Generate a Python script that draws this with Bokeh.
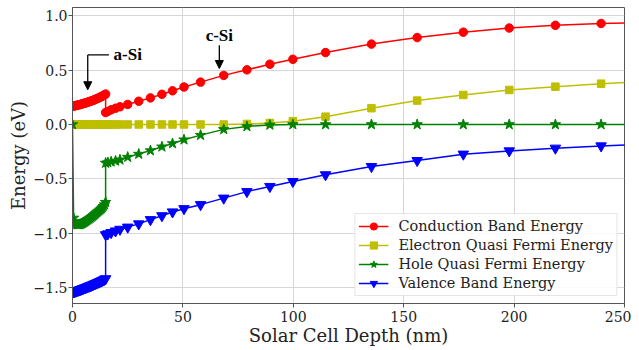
from bokeh.plotting import figure
from bokeh.models import Range1d, FixedTicker, Legend, LegendItem, Arrow, NormalHead, Label
from bokeh.embed import file_html
from bokeh.resources import INLINE

# ---------------- data ----------------
asi_depth = [0.0, 0.5, 1.0, 1.5, 2.0, 2.5, 3.0, 3.5, 4.0, 4.5, 5.0, 5.5, 6.0, 6.5, 7.0, 7.5,
             8.0, 8.5, 9.0, 9.5, 10.0, 10.5, 11.0, 11.5, 12.0, 12.5, 13.0, 13.5, 14.0, 14.5, 15.0]
csi_depth = [15.0, 16.0, 17.5, 19.5, 21.5, 25.0, 30.0, 35.3, 40.5, 45.3, 50.5, 58.0, 68.5, 79.0,
             89.4, 99.8, 114.6, 135.4, 156.1, 177.0, 197.8, 218.7, 239.4, 260.0]

cond_asi = [0.168, 0.170, 0.172, 0.174, 0.177, 0.179, 0.182, 0.184, 0.187, 0.190, 0.193, 0.196,
            0.199, 0.202, 0.206, 0.209, 0.213, 0.216, 0.220, 0.224, 0.228, 0.232, 0.237, 0.241,
            0.246, 0.251, 0.256, 0.261, 0.267, 0.273, 0.280]
cond_csi = [0.110, 0.120, 0.135, 0.150, 0.163, 0.185, 0.214, 0.245, 0.278, 0.310, 0.345, 0.390,
            0.452, 0.503, 0.555, 0.600, 0.662, 0.740, 0.800, 0.850, 0.888, 0.913, 0.930, 0.940]

efn_asi = [0.0] * 31
efn_csi = [0.0, 0.0, 0.0, 0.0, 0.0, 0.0, 0.0, 0.0, 0.0, 0.0, 0.0, 0.0, 0.0, 0.005,
           0.014, 0.030, 0.072, 0.150, 0.220, 0.272, 0.318, 0.348, 0.376, 0.395]

efp_asi = [0.0, -0.860, -0.900, -0.915, -0.920, -0.922, -0.921, -0.918, -0.914, -0.909, -0.903,
           -0.897, -0.890, -0.883, -0.876, -0.868, -0.861, -0.853, -0.845, -0.837, -0.829,
           -0.820, -0.811, -0.802, -0.793, -0.784, -0.775, -0.765, -0.752, -0.737, -0.715]
efp_csi = [-0.355, -0.350, -0.343, -0.335, -0.325, -0.300, -0.272, -0.240, -0.205, -0.175,
           -0.140, -0.098, -0.045, -0.018, -0.004, 0.0, 0.0, 0.0, 0.0, 0.0, 0.0, 0.0, 0.0, 0.0]

val_asi = [-1.545, -1.542, -1.538, -1.535, -1.531, -1.528, -1.524, -1.520, -1.517, -1.513,
           -1.509, -1.505, -1.501, -1.497, -1.493, -1.489, -1.485, -1.481, -1.477, -1.472,
           -1.468, -1.464, -1.459, -1.455, -1.450, -1.445, -1.441, -1.436, -1.431, -1.426, -1.420]
val_csi = [-1.015, -1.007, -0.995, -0.980, -0.965, -0.945, -0.915, -0.876, -0.840, -0.805,
           -0.775, -0.738, -0.678, -0.618, -0.571, -0.525, -0.463, -0.387, -0.332, -0.273,
           -0.243, -0.218, -0.197, -0.183]

series_names = ["Conduction Band Energy", "Electron Quasi Fermi Energy",
                "Hole Quasi Fermi Energy", "Valence Band Energy"]
series_colors = ["#ff0000", "#bfbf00", "#008000", "#0000ff"]
series_markers = ["circle", "square", "star", "inverted_triangle"]
series_sizes = [8.5, 7.5, 11, 10.5]
series_values = [cond_asi + cond_csi, efn_asi + efn_csi, efp_asi + efp_csi, val_asi + val_csi]
depth = asi_depth + csi_depth

x_ticks = [0, 50, 100, 150, 200, 250]
y_ticks = [-1.5, -1.0, -0.5, 0.0, 0.5, 1.0]
y_tick_labels = ["\u22121.5", "\u22121.0", "\u22120.5", "0.0", "0.5", "1.0"]

FONT = "DejaVu Serif"

# ---------------- figure ----------------
p = figure(width=631, height=348, x_range=Range1d(0, 250), y_range=Range1d(-1.648, 1.077),
           output_backend="svg", toolbar_location=None,
           min_border_left=72, min_border_right=7, min_border_top=7, min_border_bottom=43)

p.outline_line_color = "#555555"
p.outline_line_width = 1
p.background_fill_color = "white"
p.border_fill_color = "white"

p.grid.grid_line_color = "#d6d6d6"
p.grid.grid_line_width = 1

p.xaxis.ticker = FixedTicker(ticks=x_ticks)
p.yaxis.ticker = FixedTicker(ticks=y_ticks)
p.yaxis.major_label_overrides = {t: l for t, l in zip(y_ticks, y_tick_labels)}

for ax in (p.xaxis[0], p.yaxis[0]):
    ax.axis_line_color = "#555555"
    ax.major_tick_line_color = "#555555"
    ax.major_tick_out = 4
    ax.major_tick_in = 0
    ax.minor_tick_line_color = None
    ax.major_label_text_font = FONT
    ax.major_label_text_font_size = "14px"
    ax.major_label_text_color = "#222222"
    ax.axis_label_text_font = FONT
    ax.axis_label_text_font_size = "18px"
    ax.axis_label_text_font_style = "normal"
    ax.axis_label_text_color = "#222222"

p.xaxis.major_label_standoff = 3
p.xaxis.axis_label_standoff = 0
p.yaxis.major_label_standoff = 1
p.yaxis.axis_label_standoff = 2

p.xaxis.axis_label = "Solar Cell Depth (nm)"
p.yaxis.axis_label = "Energy (eV)"

items = []
for name, col, mk, sz, vals in zip(series_names, series_colors, series_markers, series_sizes, series_values):
    ln = p.line(depth, vals, line_color=col, line_width=1.5)
    sc = p.scatter(depth, vals, marker=mk, size=sz, fill_color=col, line_color=col)
    items.append(LegendItem(label=name, renderers=[ln, sc]))

legend = Legend(items=items, location="bottom_right", margin=7, padding=3, spacing=1,
                glyph_width=30, glyph_height=18, label_height=18, label_standoff=10,
                label_text_font=FONT, label_text_font_size="14.5px", label_text_color="#222222",
                border_line_color="#cccccc", border_line_width=1,
                background_fill_color="white", background_fill_alpha=0.85)
p.add_layout(legend)

# ---------------- annotations ----------------
ANN_FONT = "'Liberation Serif', 'Times New Roman', Times, serif"
asi_arrow_x, asi_arrow_top, asi_arrow_tip, asi_elbow_end, asi_text_x = 6.9, 0.64, 0.32, 16.5, 18.6
csi_arrow_x, csi_arrow_top, csi_arrow_tip, csi_text_y = 66.5, 0.73, 0.515, 0.815

p.add_layout(Arrow(end=None, x_start=asi_arrow_x, y_start=asi_arrow_top,
                   x_end=asi_elbow_end, y_end=asi_arrow_top, line_width=1.3, line_color="black"))
p.add_layout(Arrow(end=NormalHead(size=8, fill_color="black", line_color="black"),
                   x_start=asi_arrow_x, y_start=asi_arrow_top, x_end=asi_arrow_x, y_end=asi_arrow_tip,
                   line_width=1.3, line_color="black"))
p.add_layout(Label(x=asi_text_x, y=asi_arrow_top, text="a-Si", text_align="left", text_baseline="middle",
                   text_font=ANN_FONT, text_font_style="bold", text_font_size="17px", text_color="black"))

p.add_layout(Arrow(end=NormalHead(size=8, fill_color="black", line_color="black"),
                   x_start=csi_arrow_x, y_start=csi_arrow_top, x_end=csi_arrow_x, y_end=csi_arrow_tip,
                   line_width=1.3, line_color="black"))
p.add_layout(Label(x=csi_arrow_x, y=csi_text_y, text="c-Si", text_align="center", text_baseline="middle",
                   text_font=ANN_FONT, text_font_style="bold", text_font_size="17px", text_color="black"))

open("out.html", "w").write(file_html(p, INLINE))
